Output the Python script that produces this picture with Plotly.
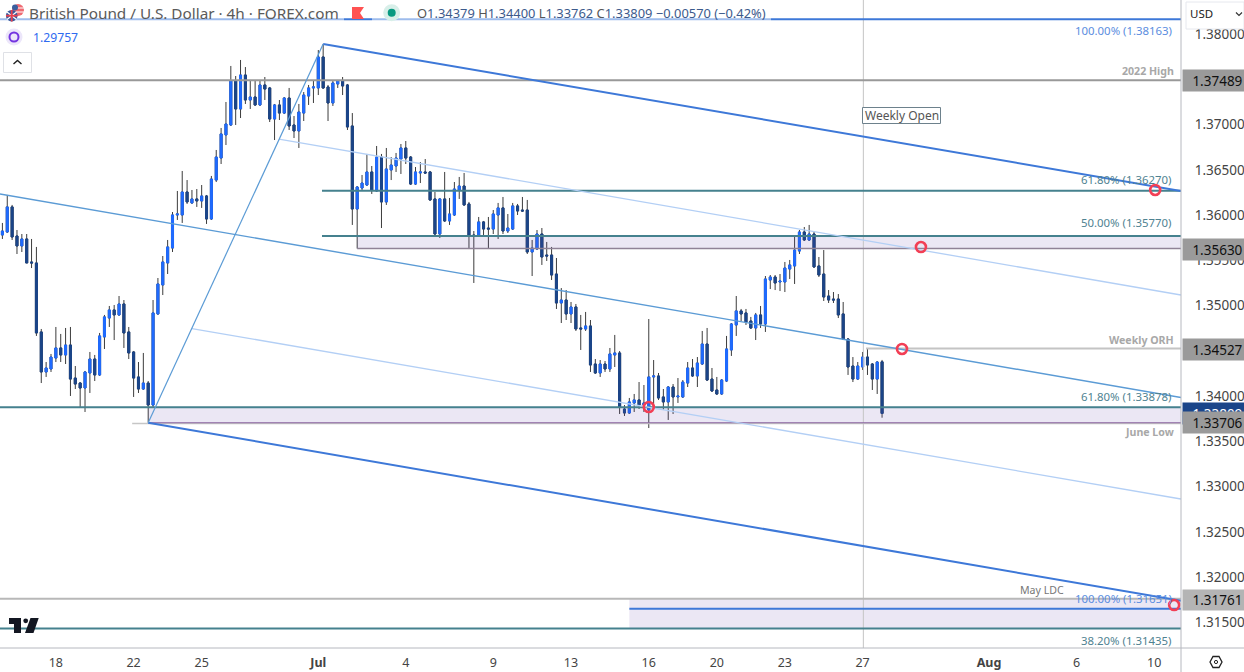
import plotly.graph_objects as go

# GBP/USD 4h candles, one row of ten per line
opens = [
    1.35780, 1.35813, 1.36090, 1.35769, 1.35659, 1.35736, 1.35482, 1.35471, 1.34709, 1.34267,
    1.34300, 1.34421, 1.34532, 1.34455, 1.34565, 1.34200, 1.34145, 1.34090, 1.34256, 1.34410,
    1.34234, 1.34654, 1.34863, 1.34952, 1.34897, 1.35018, 1.34709, 1.34488, 1.34212, 1.34079,
    1.34145, 1.33902, 1.34908, 1.35228, 1.35471, 1.35636, 1.36001, 1.36001, 1.36255, 1.36134,
    1.36178, 1.36156, 1.36211, 1.35957, 1.36387, 1.36630, 1.36885, 1.36995, 1.37481, 1.37172,
    1.37547, 1.37271, 1.37304, 1.37216, 1.37437, 1.37404, 1.37061, 1.37216, 1.37127, 1.37293,
    1.36995, 1.36929, 1.37127, 1.37315, 1.37404, 1.37404, 1.37746, 1.37415, 1.37238, 1.37448,
    1.37481, 1.37437, 1.36984, 1.36067, 1.36299, 1.36332, 1.36476, 1.36266, 1.36641, 1.36145,
    1.36498, 1.36542, 1.36619, 1.36741, 1.36641, 1.36343, 1.36465, 1.36476, 1.36476, 1.36178,
    1.35791, 1.36178, 1.35935, 1.36001, 1.36277, 1.36321, 1.36123, 1.35780, 1.35769, 1.35924,
    1.35857, 1.35846, 1.36001, 1.36079, 1.35824, 1.35846, 1.36101, 1.36056, 1.36056, 1.35592,
    1.35625, 1.35791, 1.35559, 1.35559, 1.35349, 1.35029, 1.35062, 1.34908, 1.34985, 1.34753,
    1.34742, 1.34775, 1.34355, 1.34256, 1.34355, 1.34300, 1.34455, 1.34477, 1.33858, 1.33814,
    1.33925, 1.33958, 1.33902, 1.33847, 1.34212, 1.34223, 1.33991, 1.33936, 1.34101, 1.33991,
    1.33991, 1.34145, 1.34311, 1.34223, 1.34355, 1.34576, 1.34189, 1.34068, 1.34024, 1.34167,
    1.34510, 1.34786, 1.34941, 1.34919, 1.34830, 1.34753, 1.34897, 1.34797, 1.35283, 1.35316,
    1.35261, 1.35261, 1.35404, 1.35438, 1.35603, 1.35813, 1.35725, 1.35791, 1.35438, 1.35349,
    1.35106, 1.35073, 1.35073, 1.34908, 1.34631, 1.34333, 1.34189, 1.34322, 1.34432, 1.34355,
    1.34189, 1.34379,
]
highs = [
    1.35913, 1.36222, 1.36112, 1.35835, 1.35791, 1.35791, 1.35736, 1.35648, 1.34742, 1.34377,
    1.34466, 1.34764, 1.34687, 1.34753, 1.34764, 1.34333, 1.34156, 1.34278, 1.34488, 1.34455,
    1.34698, 1.34897, 1.34996, 1.35007, 1.35106, 1.35062, 1.34764, 1.34499, 1.34377, 1.34477,
    1.34167, 1.35062, 1.35305, 1.35548, 1.35725, 1.36034, 1.36266, 1.36487, 1.36387, 1.36277,
    1.36288, 1.36332, 1.36222, 1.36432, 1.36719, 1.36962, 1.37249, 1.37647, 1.37536, 1.37713,
    1.37635, 1.37492, 1.37481, 1.37492, 1.37525, 1.37415, 1.37227, 1.37271, 1.37304, 1.37404,
    1.37094, 1.37227, 1.37359, 1.37437, 1.37481, 1.37823, 1.37890, 1.37437, 1.37492, 1.37492,
    1.37525, 1.37448, 1.37127, 1.36321, 1.36443, 1.36675, 1.36542, 1.36763, 1.36675, 1.36741,
    1.36641, 1.36686, 1.36785, 1.36818, 1.36652, 1.36531, 1.36586, 1.36619, 1.36487, 1.36255,
    1.36189, 1.36476, 1.36189, 1.36365, 1.36421, 1.36465, 1.36145, 1.35824, 1.35979, 1.35935,
    1.35979, 1.36056, 1.36134, 1.36200, 1.36012, 1.36134, 1.36123, 1.36200, 1.36167, 1.35725,
    1.35835, 1.35857, 1.35703, 1.35648, 1.35526, 1.35194, 1.35172, 1.35040, 1.35018, 1.34897,
    1.34930, 1.34841, 1.34410, 1.34399, 1.34388, 1.34532, 1.34676, 1.34499, 1.33902, 1.33980,
    1.34024, 1.34156, 1.34123, 1.34852, 1.34399, 1.34256, 1.34079, 1.34112, 1.34134, 1.34200,
    1.34178, 1.34377, 1.34410, 1.34432, 1.34720, 1.34753, 1.34311, 1.34212, 1.34189, 1.34665,
    1.34808, 1.35106, 1.34963, 1.34963, 1.34875, 1.34919, 1.34996, 1.35327, 1.35338, 1.35338,
    1.35349, 1.35482, 1.35504, 1.35758, 1.35835, 1.35868, 1.35891, 1.35813, 1.35537, 1.35614,
    1.35172, 1.35150, 1.35128, 1.35040, 1.34642, 1.34432, 1.34377, 1.34488, 1.34521, 1.34366,
    1.34388, 1.34400,
]
lows = [
    1.35736, 1.35802, 1.35725, 1.35570, 1.35592, 1.35471, 1.35415, 1.34665, 1.34145, 1.34212,
    1.34267, 1.34377, 1.34377, 1.34355, 1.34002, 1.34079, 1.33869, 1.33825, 1.34035, 1.34167,
    1.34223, 1.34521, 1.34764, 1.34620, 1.34886, 1.34532, 1.34410, 1.33991, 1.34035, 1.34068,
    1.33706, 1.33880, 1.34897, 1.35117, 1.35349, 1.35592, 1.35946, 1.35913, 1.36123, 1.36123,
    1.36090, 1.36079, 1.35902, 1.35946, 1.36365, 1.36564, 1.36774, 1.36984, 1.36995, 1.37072,
    1.37227, 1.37172, 1.37205, 1.37205, 1.37271, 1.37028, 1.36829, 1.37050, 1.37116, 1.36940,
    1.36851, 1.36741, 1.37039, 1.37216, 1.37238, 1.37326, 1.37393, 1.37039, 1.37205, 1.37404,
    1.37326, 1.36940, 1.35891, 1.35630, 1.36277, 1.36321, 1.36233, 1.36255, 1.35857, 1.36112,
    1.36387, 1.36476, 1.36454, 1.36564, 1.36332, 1.36332, 1.36354, 1.36454, 1.36156, 1.35780,
    1.35747, 1.35924, 1.35891, 1.35990, 1.36178, 1.36101, 1.35625, 1.35250, 1.35758, 1.35780,
    1.35636, 1.35791, 1.35736, 1.35791, 1.35802, 1.35835, 1.36001, 1.36034, 1.35570, 1.35327,
    1.35614, 1.35449, 1.35493, 1.35283, 1.34963, 1.34808, 1.34841, 1.34808, 1.34720, 1.34510,
    1.34720, 1.34267, 1.34245, 1.34212, 1.34267, 1.34267, 1.34322, 1.33803, 1.33781, 1.33803,
    1.33825, 1.33858, 1.33825, 1.33648, 1.33914, 1.33958, 1.33847, 1.33737, 1.33803, 1.33925,
    1.33980, 1.34101, 1.34212, 1.34101, 1.34344, 1.34167, 1.34046, 1.34013, 1.34013, 1.34156,
    1.34444, 1.34665, 1.34830, 1.34786, 1.34742, 1.34620, 1.34753, 1.34709, 1.35183, 1.35172,
    1.35161, 1.35150, 1.35294, 1.35239, 1.35570, 1.35714, 1.35714, 1.35416, 1.35316, 1.35051,
    1.35029, 1.35029, 1.34863, 1.34620, 1.34234, 1.34156, 1.34178, 1.34289, 1.34234, 1.34068,
    1.34024, 1.33762,
]
closes = [
    1.35824, 1.36090, 1.35758, 1.35659, 1.35736, 1.35471, 1.35471, 1.34698, 1.34267, 1.34311,
    1.34432, 1.34532, 1.34455, 1.34565, 1.34189, 1.34134, 1.34090, 1.34267, 1.34410, 1.34234,
    1.34665, 1.34875, 1.34952, 1.34897, 1.35018, 1.34698, 1.34477, 1.34200, 1.34079, 1.34145,
    1.33902, 1.34919, 1.35239, 1.35482, 1.35648, 1.36001, 1.36012, 1.36255, 1.36145, 1.36178,
    1.36156, 1.36211, 1.35957, 1.36398, 1.36641, 1.36896, 1.37006, 1.37481, 1.37172, 1.37547,
    1.37271, 1.37304, 1.37216, 1.37437, 1.37392, 1.37061, 1.37216, 1.37127, 1.37293, 1.36984,
    1.36929, 1.37138, 1.37326, 1.37404, 1.37415, 1.37746, 1.37404, 1.37238, 1.37459, 1.37481,
    1.37426, 1.36973, 1.36067, 1.36310, 1.36354, 1.36476, 1.36277, 1.36641, 1.36145, 1.36509,
    1.36553, 1.36630, 1.36741, 1.36630, 1.36343, 1.36476, 1.36476, 1.36465, 1.36167, 1.35791,
    1.36178, 1.35935, 1.36012, 1.36288, 1.36321, 1.36112, 1.35769, 1.35769, 1.35924, 1.35846,
    1.35846, 1.36012, 1.36079, 1.35824, 1.35857, 1.36101, 1.36045, 1.36045, 1.35592, 1.35636,
    1.35791, 1.35537, 1.35548, 1.35338, 1.35029, 1.35062, 1.34908, 1.34985, 1.34742, 1.34742,
    1.34775, 1.34344, 1.34256, 1.34355, 1.34300, 1.34466, 1.34477, 1.33880, 1.33814, 1.33936,
    1.33958, 1.33902, 1.33925, 1.34212, 1.34223, 1.33980, 1.33936, 1.34101, 1.33991, 1.34002,
    1.34156, 1.34311, 1.34223, 1.34366, 1.34576, 1.34178, 1.34057, 1.34024, 1.34178, 1.34521,
    1.34797, 1.34941, 1.34908, 1.34819, 1.34753, 1.34897, 1.34797, 1.35294, 1.35316, 1.35250,
    1.35272, 1.35415, 1.35449, 1.35614, 1.35813, 1.35725, 1.35791, 1.35427, 1.35338, 1.35095,
    1.35062, 1.35062, 1.34897, 1.34631, 1.34322, 1.34189, 1.34333, 1.34432, 1.34344, 1.34189,
    1.34377, 1.33809,
]

# Date ticks, given by bar number
tick_bars = [11, 27, 41, 65, 83, 101, 117, 133, 147, 161, 177, 203, 221, 237]
tick_labels = ["18", "22", "25", "<b>Jul</b>", "4", "9", "13", "16", "20", "23", "27",
               "<b>Aug</b>", "6", "10"]
# 1.345 and 1.375 sit behind the price flags, so they get no label of their own
price_ticks = [1.315, 1.32, 1.325, 1.33, 1.335, 1.34, 1.35, 1.355, 1.36, 1.365, 1.37, 1.38]

# Horizontal levels
fib_100_high = 1.38163
high_2022 = 1.37489
fib_618_upper = 1.36270
fib_50 = 1.35770
zone_upper_low = 1.35630
weekly_orh = 1.34527
fib_618_lower = 1.33878
june_low = 1.33706
may_ldc = 1.31761
fib_100_low = 1.31651
fib_382 = 1.31435
last_price = 1.33809

# Channel rails as (bar, price) end points
rail_top_x, rail_top_y = [66, 242.5], [1.37890, 1.36266]
rail_upper_mid_x, rail_upper_mid_y = [56.9, 242.5], [1.36840, 1.35117]
rail_center_x, rail_center_y = [-0.5, 242.5], [1.36233, 1.33985]
rail_lower_mid_x, rail_lower_mid_y = [39, 242.5], [1.34747, 1.32864]
rail_bottom_x, rail_bottom_y = [30, 242.5], [1.33706, 1.31739]
swing_x, swing_y = [30, 66], [1.33706, 1.37890]

# Ringed confluence points
ring_x = [133, 185.1, 189, 237.2, 241.1]
ring_y = [1.33880, 1.34521, 1.35647, 1.36277, 1.31693]

weekly_open_bar = 177.15
left_edge, right_edge = -0.494, 242.51
bottom_price, top_price = 1.312183, 1.383755
plot_w, plot_h = 1181, 648

UP, DOWN, WICK = "#1f6bff", "#1b4589", "#3c3c3c"
TEAL, HEAVY, MEDIUM, LIGHT = "#45818e", "#3d78d8", "#5b9bd5", "#b3cff5"
ZONE = "rgba(103,70,170,0.13)"
FONT = "Noto Sans"


def px(x):
    return x / plot_w


def py(y):
    return 1 - y / plot_h


fig = go.Figure()
bars = list(range(len(opens)))
body_hi = [max(a, b) for a, b in zip(opens, closes)]
body_lo = [min(a, b) for a, b in zip(opens, closes)]

# Wicks first, then the coloured bodies on top so the wicks can stay dark
fig.add_trace(go.Candlestick(
    x=bars, open=opens, high=highs, low=lows, close=closes, whiskerwidth=0,
    increasing=dict(line=dict(color=WICK, width=1), fillcolor=WICK),
    decreasing=dict(line=dict(color=WICK, width=1), fillcolor=WICK)))
fig.add_trace(go.Candlestick(
    x=bars, open=opens, high=body_hi, low=body_lo, close=closes, whiskerwidth=0,
    increasing=dict(line=dict(color=UP, width=1), fillcolor=UP),
    decreasing=dict(line=dict(color=DOWN, width=1), fillcolor=DOWN)))


def band(x0, x1, y0, y1):
    fig.add_trace(go.Scatter(x=[x0, x1, x1, x0, x0], y=[y0, y0, y1, y1, y0], mode="lines",
                             fill="toself", fillcolor=ZONE, line=dict(width=0)))


def line(x, y, color, width):
    fig.add_trace(go.Scatter(x=x, y=y, mode="lines", line=dict(color=color, width=width)))


band(73, right_edge, zone_upper_low, fib_50)
band(30, right_edge, june_low, fib_618_lower)
band(129, right_edge, fib_382, may_ldc)

line([weekly_open_bar, weekly_open_bar], [bottom_price, top_price], "#c4c4c4", 1)

line([left_edge, right_edge], [fib_100_high, fib_100_high], HEAVY, 2)
line([left_edge, right_edge], [high_2022, high_2022], "#999999", 2)
line([65.76, right_edge], [fib_618_upper, fib_618_upper], TEAL, 2)
line([65.76, right_edge], [fib_50, fib_50], TEAL, 2)
line([73, right_edge], [zone_upper_low, zone_upper_low], "#8f8296", 1.5)
line([177.7, right_edge], [weekly_orh, weekly_orh], "#c4c4c4", 2)
line([left_edge, right_edge], [fib_618_lower, fib_618_lower], TEAL, 2)
line([26.7, right_edge], [june_low - 0.00007, june_low - 0.00007], "#c6c6c6", 1.5)
line([30, right_edge], [june_low, june_low], "#8a63a0", 1.2)
line([left_edge, right_edge], [may_ldc, may_ldc], "#b8b8b8", 2)
line([129, right_edge], [fib_100_low, fib_100_low], HEAVY, 2)
line([left_edge, right_edge], [fib_382, fib_382], TEAL, 2)

line(rail_top_x, rail_top_y, HEAVY, 2)
line(rail_upper_mid_x, rail_upper_mid_y, LIGHT, 1.3)
line(rail_center_x, rail_center_y, MEDIUM, 1.4)
line(rail_lower_mid_x, rail_lower_mid_y, LIGHT, 1.3)
line(rail_bottom_x, rail_bottom_y, HEAVY, 2)
line(swing_x, swing_y, MEDIUM, 1.2)

fig.add_trace(go.Scatter(
    x=ring_x, y=ring_y, mode="markers",
    marker=dict(symbol="circle-open", size=10, color="#f23f55", line=dict(width=2.6, color="#f23f55"))))

shapes = []
annotations = []


def box(x0, y0, x1, y1, fill, border=None, width=1):
    shapes.append(dict(type="rect", xref="paper", yref="paper", x0=px(x0), x1=px(x1), y0=py(y0), y1=py(y1),
                       fillcolor=fill, line=dict(color=border or "rgba(0,0,0,0)", width=width if border else 0)))


def dot(cx, cy, r, fill, border=None, width=1):
    shapes.append(dict(type="circle", xref="paper", yref="paper", x0=px(cx - r), x1=px(cx + r),
                       y0=py(cy + r), y1=py(cy - r), fillcolor=fill,
                       line=dict(color=border or "rgba(0,0,0,0)", width=width if border else 0)))


def poly(points, fill=None, border=None, width=1):
    path = "M " + " L ".join(f"{px(a):.5f} {py(b):.5f}" for a, b in points)
    if fill:
        path += " Z"
    shapes.append(dict(type="path", xref="paper", yref="paper", path=path,
                       fillcolor=fill or "rgba(0,0,0,0)",
                       line=dict(color=border or "rgba(0,0,0,0)", width=width if border else 0)))


def text(x, y, s, color, size=11.4, anchor="right"):
    annotations.append(dict(xref="paper", yref="paper", x=px(x), y=py(y), text=s, showarrow=False,
                            xanchor=anchor, yanchor="middle", font=dict(family=FONT, size=size, color=color),
                            borderpad=0))


def flag(top, bottom, colour, label, ink):
    # Price flag drawn as a filled annotation so later flags cover earlier ones
    annotations.append(dict(xref="paper", yref="paper", x=px(1182), y=py((top + bottom) / 2), text="\u00a0\u00a0" + label,
                            showarrow=False, xanchor="left", yanchor="middle", align="center",
                            width=62, height=bottom - top, borderpad=0, bgcolor=colour,
                            font=dict(family=FONT, size=13.5, color=ink)))


# Level captions inside the plot
BLUE_TXT, TEAL_TXT, GREY_TXT = "#5b8de0", "#4f8291", "#a8a8a8"
text(1173, 31, "100.00% (1.38163)", BLUE_TXT)
text(1175, 71, "<b>2022 High</b>", GREY_TXT, 10.6)
text(1173, 179, "61.80% (1.36270)", TEAL_TXT)
text(1173, 223, "50.00% (1.35770)", TEAL_TXT)
text(1175, 340, "<b>Weekly ORH</b>", GREY_TXT, 10.6)
text(1173, 396, "61.80% (1.33878)", TEAL_TXT)
text(1175, 432, "<b>June Low</b>", GREY_TXT, 10.6)
text(1065, 590, "May LDC", "#777777", 10.6)
text(1173, 598, "100.00% (1.31651)", BLUE_TXT)
text(1173, 640, "38.20% (1.31435)", TEAL_TXT)

# Weekly open tag
box(862.5, 107.5, 940.5, 123.5, "#ffffff", "#6d818c", 1)
text(901.5, 115.5, "Weekly Open", "#555555", 12, "center")

# Price scale flags, last traded price underneath the June low flag
flag(70, 91, "#9a9a9a", "1.37489", "#111111")
flag(239, 260, "#9a9a9a", "1.35630", "#111111")
flag(339, 360, "#9a9a9a", "1.34527", "#111111")
flag(403, 424, DOWN, f"{last_price:.5f}", "#ffffff")
flag(412, 433, "#9a9a9a", "1.33706", "#111111")
flag(590, 610, "#b4b4b4", "1.31761", "#111111")

# Currency selector
shapes.append(dict(type="rect", xref="paper", yref="paper", x0=px(1186), x1=px(1244), y0=py(29), y1=py(2),
                   fillcolor="#ffffff", line=dict(color="#e6e8ee", width=1)))
text(1189, 14, "USD", "#222222", 11.5, "left")
poly([(1236, 12.5), (1239, 15.5), (1242, 12.5)], None, "#333333", 1.2)

# Frame of the price and time scales
poly([(1181, 0), (1181, 672)], None, "#b6b8bf", 1)
poly([(0, plot_h), (1244, plot_h)], None, "#b6b8bf", 1)

# Settings hexagon
poly([(1210, 662), (1213, 656.5), (1219, 656.5), (1222, 662), (1219, 667.5), (1213, 667.5)], "#ffffff", "#222222", 1.3)
dot(1216, 662, 1.6, "#ffffff", "#222222", 1)

# Header strip: veil over the top level line where the legend sits
box(0, 16, 344, 22, "rgba(255,255,255,0.5)")
box(372, 16, 771, 22, "rgba(255,255,255,0.5)")

# Symbol flags
dot(18, 10, 6, "#ef6a72")
poly([(13, 8), (24, 8)], None, "#ffffff", 1)
poly([(13, 12), (24, 12)], None, "#ffffff", 1)
dot(15, 7.5, 3, "#3b5f9e")
dot(11.7, 15.7, 5.8, "#3a5a9c")
poly([(7, 12), (16.5, 19.5)], None, "#ffffff", 1.2)
poly([(16.5, 12), (7, 19.5)], None, "#ffffff", 1.2)
poly([(6, 15.7), (17.5, 15.7)], None, "#e8404f", 1.8)
poly([(11.7, 10), (11.7, 21.5)], None, "#e8404f", 1.8)

text(28, 13, "British Pound / U.S. Dollar · 4h · FOREX.com", "#5a5a5a", 15.3, "left")

# Status markers
poly([(352, 7), (364, 7), (360, 13), (364, 19), (352, 19)], "#ff5252")
dot(391.7, 12.7, 8.5, "#d8efe9")
dot(391.7, 12.7, 4, "#089981")

VAL = "#3c5a8c"
GREY = "#555555"
legend_parts = [("O", "1.34379"), ("H", "1.34400"), ("L", "1.33762"), ("C", "1.33809")]
legend_text = " ".join(f'<span style="color:{GREY}">{k}</span><span style="color:{VAL}">{v}</span>'
                       for k, v in legend_parts)
legend_text += f' <span style="color:{VAL}">−0.00570 (−0.42%)</span>'
text(416, 13, legend_text, GREY, 12.9, "left")

# Indicator row
dot(14, 37, 8.5, "#ece6fa")
dot(14, 37, 4.5, "rgba(0,0,0,0)", "#7435e0", 2)
text(32, 37, "1.29757", "#2f6bf0", 12.2, "left")

# Collapse button
shapes.append(dict(type="rect", xref="paper", yref="paper", x0=px(3.5), x1=px(31.5), y0=py(72.5), y1=py(52.5),
                   fillcolor="rgba(255,255,255,0.9)", line=dict(color="#dfe1e6", width=1)))
poly([(13.5, 64), (17.5, 60.5), (21.5, 64)], None, "#222222", 1.4)

# Vendor mark
poly([(9, 618), (21, 618), (21, 633), (14, 633), (14, 624), (9, 624)], "#131722")
dot(25.7, 620.8, 2.4, "#131722")
poly([(30.5, 618), (38.7, 618), (33.5, 633), (25, 633)], "#131722")

fig.update_layout(
    width=1244, height=672,
    margin=dict(l=0, r=63, t=0, b=24),
    paper_bgcolor="#ffffff", plot_bgcolor="#ffffff",
    showlegend=False, hovermode=False, boxgap=0.4,
    font=dict(family=FONT, size=13, color="#444444"),
    shapes=shapes, annotations=annotations,
    xaxis=dict(range=[left_edge, right_edge], tickmode="array", tickvals=tick_bars, ticktext=tick_labels,
               showgrid=False, zeroline=False, showline=False, rangeslider=dict(visible=False),
               ticks="outside", ticklen=3, tickcolor="rgba(0,0,0,0)",
               tickfont=dict(family=FONT, size=12.5, color="#444444")),
    yaxis=dict(range=[bottom_price, top_price], side="right", tickmode="array", tickvals=price_ticks,
               tickformat=".5f", showgrid=False, zeroline=False, showline=False,
               ticks="outside", ticklen=10, tickcolor="rgba(0,0,0,0)",
               tickfont=dict(family=FONT, size=13.5, color="#444444")),
)

fig.write_html("out.html", config=dict(displayModeBar=False))
